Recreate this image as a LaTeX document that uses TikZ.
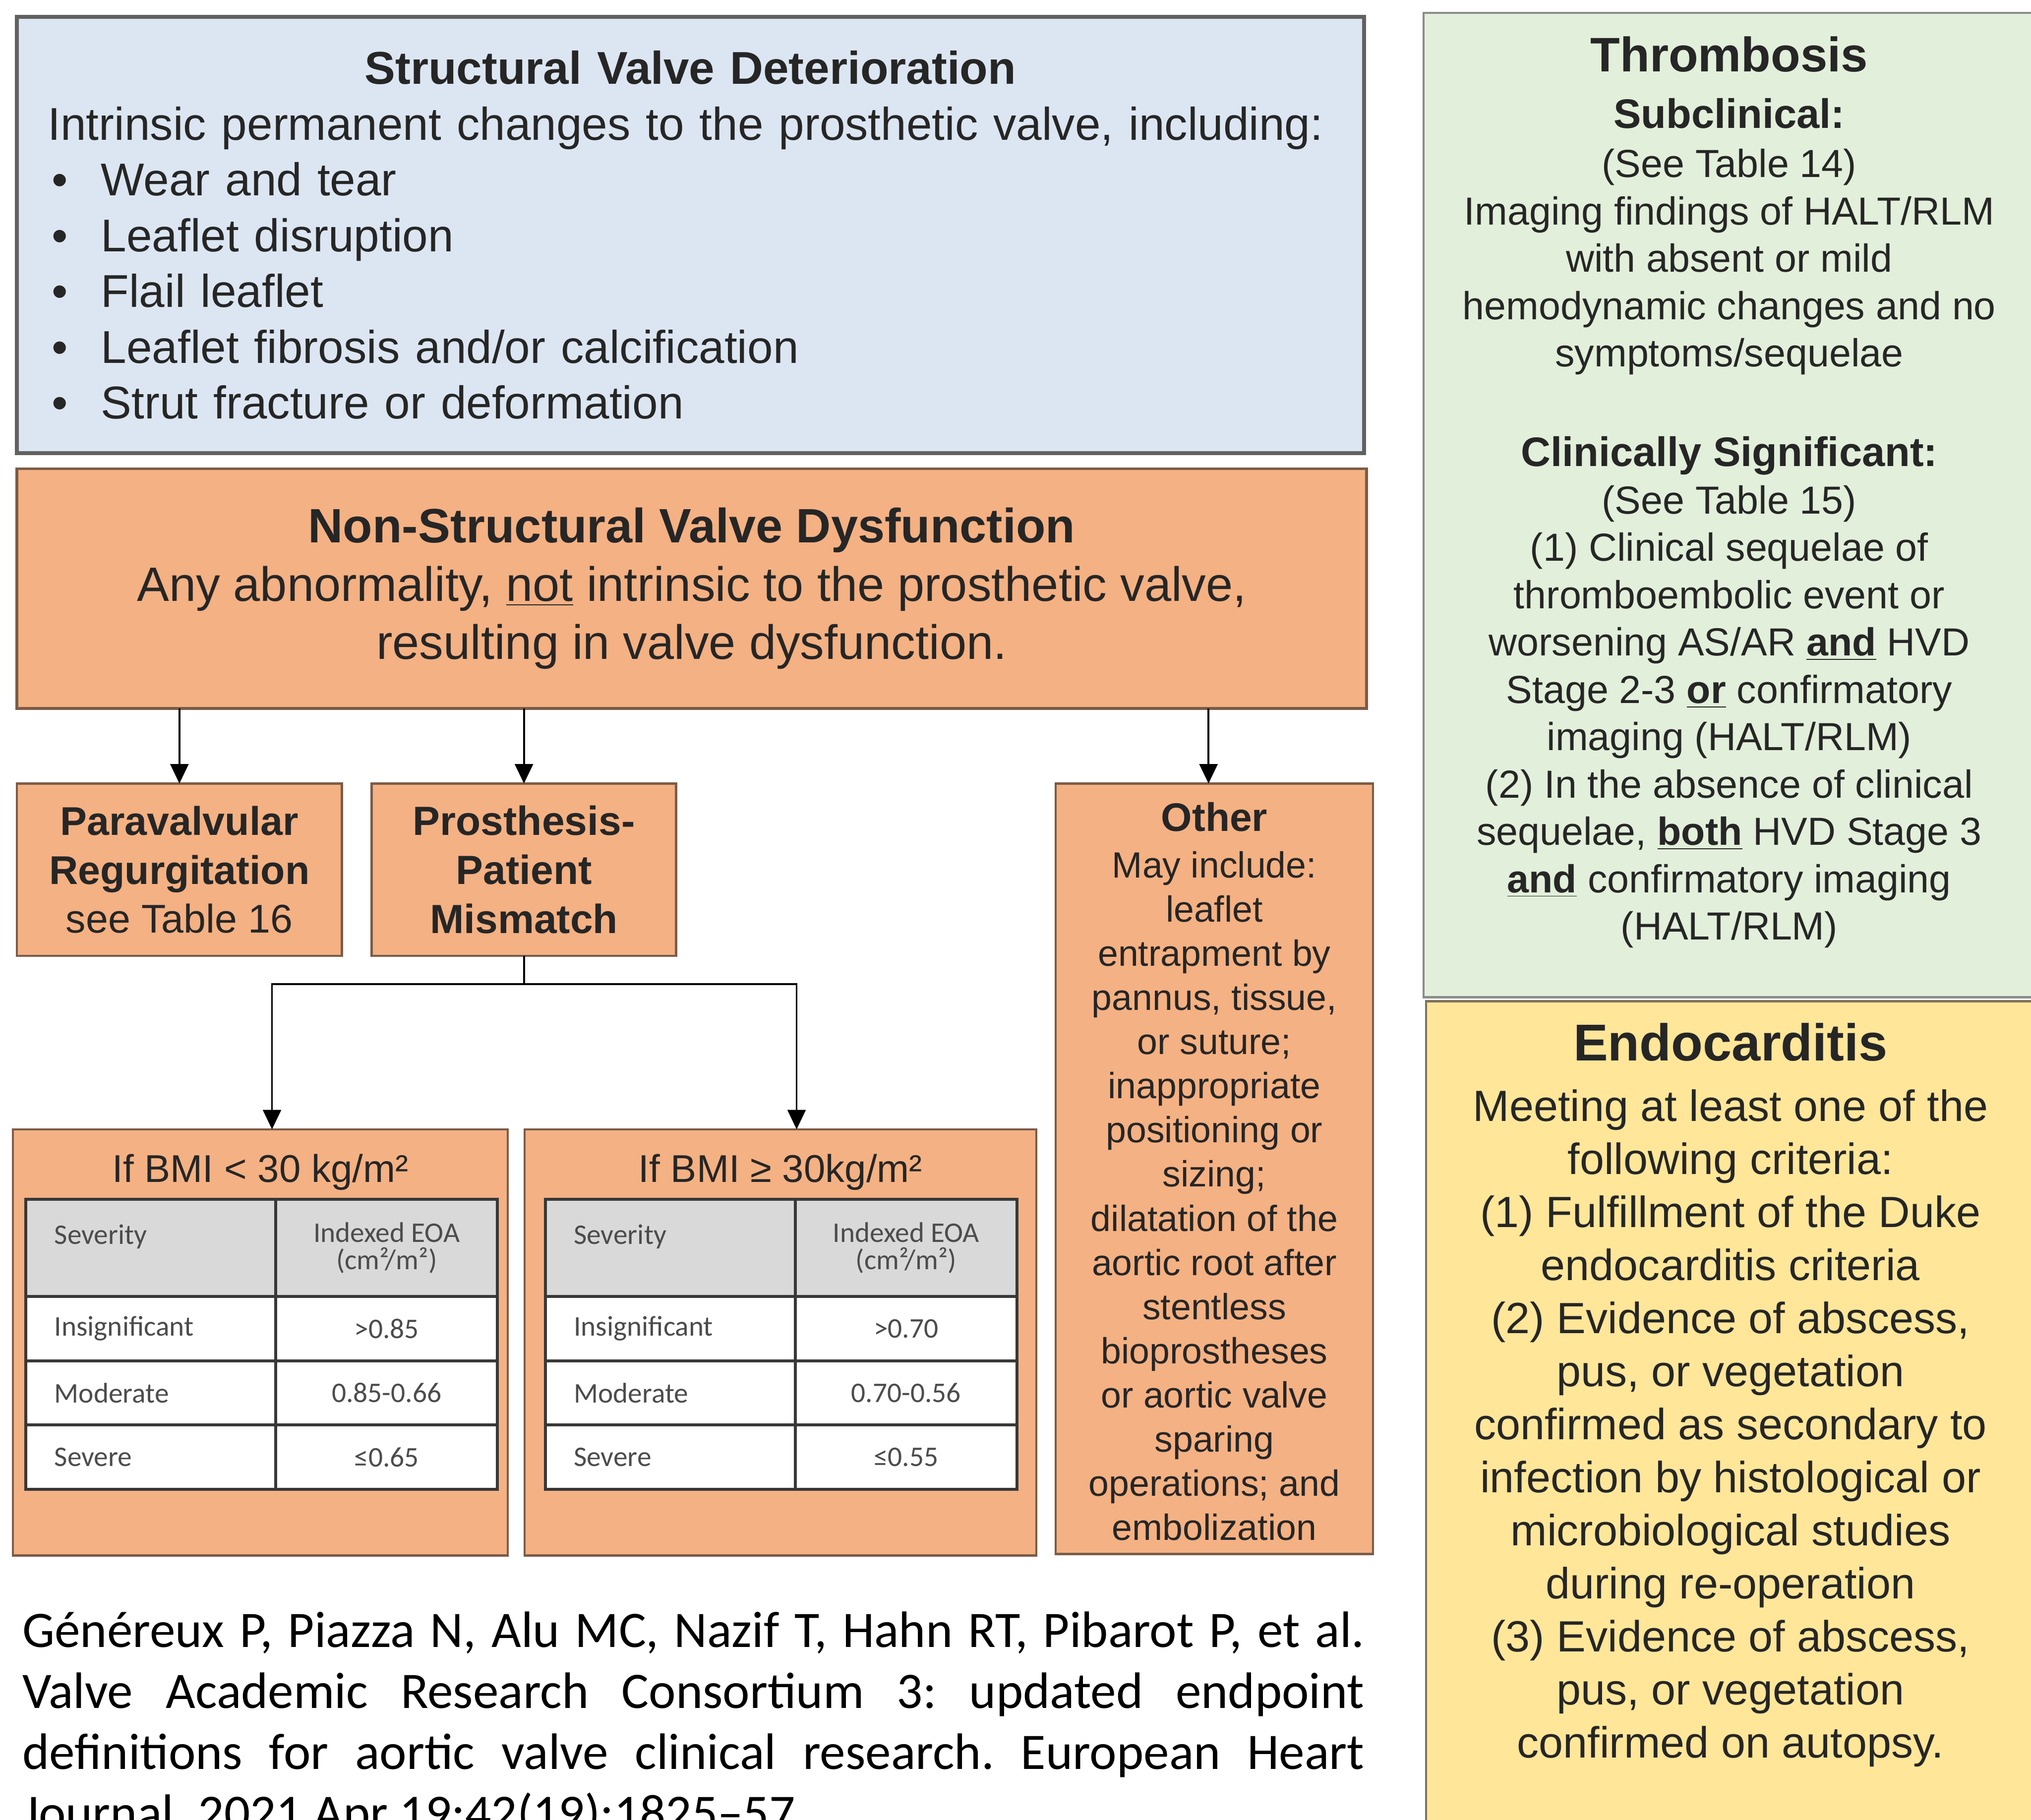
\documentclass[tikz,border=0pt]{standalone}
\usepackage{fontspec}
\setmainfont{Liberation Sans}
\newfontfamily\califont{Carlito}
\usetikzlibrary{positioning, arrows.meta}

\definecolor{svdblue}{HTML}{DCE6F2}
\definecolor{nsvdorange}{HTML}{F4B183}
\definecolor{orangeline}{HTML}{7A5C48}
\definecolor{thrgreen}{HTML}{E2EFDA}
\definecolor{endoyellow}{HTML}{FFE699}
\definecolor{endoline}{HTML}{7E735A}
\definecolor{hdrgray}{HTML}{D9D9D9}
\definecolor{inkdark}{HTML}{262626}

\newcommand{\svdbul}{\makebox[8.2mm][l]{\hspace{0.6mm}\textbullet}}

\tikzset{
  box/.style={
    draw,
    rectangle,
    inner sep=0pt,
    outer sep=0pt,
    anchor=north west,
    text=inkdark
  },
  svdbox/.style={box, fill=svdblue, draw=black!62, line width=0.6mm, text width=198.4mm, inner xsep=4.8mm, minimum height=67.4mm, align=left, font=\fontsize{20.2}{24.5}\selectfont},
  nsvdbox/.style={box, fill=nsvdorange, draw=orangeline, line width=0.4mm, minimum width=208.4mm, minimum height=37mm, align=center, font=\fontsize{21.2}{25.6}\selectfont},
  subbox/.style={box, fill=nsvdorange, draw=orangeline, line width=0.35mm, align=center},
  bmibox/.style={box, fill=nsvdorange, draw=orangeline, line width=0.35mm, minimum height=65.8mm},
  bmititle/.style={font=\fontsize{17}{20}\selectfont, text=inkdark},
  cell/.style={draw=black!78, line width=0.45mm, inner sep=0pt, outer sep=0pt, fill=white, text=black!70, font=\califont\fontsize{12.5}{12}\selectfont},
  sevcell/.style={cell, text width=29.8mm, inner xsep=4.4mm, align=left, minimum height=9.93mm},
  valcell/.style={cell, minimum width=34.2mm, align=center, minimum height=9.93mm},
  hdrsev/.style={sevcell, fill=hdrgray, minimum height=15mm},
  hdrval/.style={valcell, fill=hdrgray, minimum height=15mm},
  thrbox/.style={box, fill=thrgreen, draw=black!45, line width=0.35mm, minimum width=94.4mm, minimum height=152mm},
  endobox/.style={box, fill=endoyellow, draw=endoline, line width=0.35mm, minimum width=94mm, minimum height=129.4mm},
  sidetext/.style={align=center, inner sep=0pt, text=inkdark},
  arr/.style={draw=black, line width=0.8pt, -{Triangle[length=3mm, width=2.8mm]}}
}

\begin{document}
\begin{tikzpicture}[x=0.2mm, y=-0.2mm]
  \useasboundingbox (0,0) rectangle (1568,1405);
  \clip (0,0) rectangle (1568,1405);
  \fill[white] (0,0) rectangle (1568,1405);

  % structural and non-structural
  \node[svdbox] (svd) at (13,13) {\makebox[\linewidth]{\textbf{Structural Valve Deterioration}}\\
    \makebox[\linewidth][l]{Intrinsic permanent changes to the prosthetic valve, including:}\\
    \svdbul Wear and tear\\
    \svdbul Leaflet disruption\\
    \svdbul Flail leaflet\\
    \svdbul Leaflet fibrosis and/or calcification\\
    \svdbul Strut fracture or deformation};
  \node[nsvdbox] (nsvd) at (13,362) {\textbf{Non-Structural Valve Dysfunction}\\
    Any abnormality, \underline{not} intrinsic to the prosthetic valve,\\
    resulting in valve dysfunction.};

  % branches
  \node[subbox, minimum width=50.2mm, minimum height=26.6mm, font=\fontsize{17.6}{21.4}\selectfont] (para) at (13,605) {\textbf{Paravalvular}\\\textbf{Regurgitation}\\see Table 16};
  \node[subbox, minimum width=47mm, minimum height=26.6mm, font=\fontsize{17.9}{21.6}\selectfont\bfseries] (ppm) at (287,605) {Prosthesis-\\Patient\\Mismatch};
  \node[subbox, minimum width=49mm, minimum height=119mm, font=\fontsize{16}{19.4}\selectfont] (other) at (815,605) {{\fontsize{17.5}{19.4}\selectfont\bfseries Other}\rule{0pt}{15pt}\\[1pt]
    May include:\\leaflet\\entrapment by\\pannus, tissue,\\or suture;\\inappropriate\\positioning or\\sizing;\\dilatation of the\\aortic root after\\stentless\\bioprostheses\\or aortic valve\\sparing\\operations; and\\embolization};

  % BMI boxes
  \node[bmibox, minimum width=76.4mm] (bmilo) at (10,872) {};
  \node[bmibox, minimum width=79mm] (bmihi) at (405,872) {};
  \node[bmititle] (bmilot) at ([yshift=-6.6mm]bmilo.north) {If BMI < 30 kg/m²};
  \node[bmititle] (bmihit) at ([yshift=-6.6mm]bmihi.north) {If BMI ≥ 30kg/m²};

  % BMI < 30 table
  \node[hdrsev, anchor=north west] (lo11) at (20,926) {Severity\\\mbox{}};
  \node[hdrval, right=0pt of lo11] (lo12) {Indexed EOA\\(cm²/m²)};
  \node[sevcell, below=0pt of lo11] (lo21) {Insignificant};
  \node[valcell, right=0pt of lo21] (lo22) {>0.85};
  \node[sevcell, below=0pt of lo21] (lo31) {Moderate};
  \node[valcell, right=0pt of lo31] (lo32) {0.85-0.66};
  \node[sevcell, below=0pt of lo31] (lo41) {Severe};
  \node[valcell, right=0pt of lo41] (lo42) {≤0.65};

  % BMI >= 30 table
  \node[hdrsev, anchor=north west] (hi11) at (421,926) {Severity\\\mbox{}};
  \node[hdrval, right=0pt of hi11] (hi12) {Indexed EOA\\(cm²/m²)};
  \node[sevcell, below=0pt of hi11] (hi21) {Insignificant};
  \node[valcell, right=0pt of hi21] (hi22) {>0.70};
  \node[sevcell, below=0pt of hi21] (hi31) {Moderate};
  \node[valcell, right=0pt of hi31] (hi32) {0.70-0.56};
  \node[sevcell, below=0pt of hi31] (hi41) {Severe};
  \node[valcell, right=0pt of hi41] (hi42) {≤0.55};

  % right column
  \node[thrbox] (thr) at (1099,10) {};
  \node[sidetext, font=\fontsize{17.2}{20.8}\selectfont] (thrtext) at ([yshift=2mm]thr.center) {{\fontsize{21.3}{20.8}\selectfont\bfseries Thrombosis}\\[4.2pt]
    {\fontsize{18.1}{20.8}\selectfont\bfseries Subclinical:}\\[0.8pt]
    (See Table 14)\\
    Imaging findings of HALT/RLM\\
    with absent or mild\\
    hemodynamic changes and no\\
    symptoms/sequelae\\[23pt]
    {\fontsize{18.1}{20.8}\selectfont\bfseries Clinically Significant:}\\
    (See Table 15)\\
    (1) Clinical sequelae of\\
    thromboembolic event or\\
    worsening AS/AR \textbf{\underline{and}} HVD\\
    Stage 2-3 \textbf{\underline{or}} confirmatory\\
    imaging (HALT/RLM)\\
    (2) In the absence of clinical\\
    sequelae, \textbf{\underline{both}} HVD Stage 3\\
    \textbf{\underline{and}} confirmatory imaging\\
    (HALT/RLM)};

  \node[endobox] (endo) at (1101,773) {};
  \node[sidetext, font=\fontsize{19.2}{23.3}\selectfont] (endotext) at ([yshift=-60.8mm]endo.north) {{\fontsize{22.8}{23.3}\selectfont\bfseries Endocarditis}\\[3.4pt]
    Meeting at least one of the\\
    following criteria:\\
    (1) Fulfillment of the Duke\\
    endocarditis criteria\\
    (2) Evidence of abscess,\\
    pus, or vegetation\\
    confirmed as secondary to\\
    infection by histological or\\
    microbiological studies\\
    during re-operation\\
    (3) Evidence of abscess,\\
    pus, or vegetation\\
    confirmed on autopsy.};

  % reference
  \node[anchor=north west, inner sep=0pt, text width=207.2mm, align=justify, font=\califont\fontsize{22.5}{26.8}\selectfont] (cite) at (17,1244) {\frenchspacing\hyphenpenalty=10000 Généreux P, Piazza N, Alu MC, Nazif T, Hahn RT, Pibarot P, et al.\linebreak Valve Academic Research Consortium 3: updated endpoint\linebreak definitions for aortic valve clinical research. European Heart\linebreak Journal. 2021 Apr 19;42(19):1825–57.};

  % arrows
  \draw[arr] (para.north |- nsvd.south) -- (para.north);
  \draw[arr] (ppm.north |- nsvd.south) -- (ppm.north);
  \draw[arr] ([xshift=-0.9mm]other.north |- nsvd.south) -- ([xshift=-0.9mm]other.north);

  \coordinate (ppmsplit) at ([yshift=-4.4mm]ppm.south);
  \draw[line width=0.8pt] (ppm.south) -- (ppmsplit);
  \draw[arr] (ppmsplit) -| ([xshift=1.8mm]bmilo.north);
  \draw[arr] (ppmsplit) -| ([xshift=2.5mm]bmihi.north);
\end{tikzpicture}
\end{document}
